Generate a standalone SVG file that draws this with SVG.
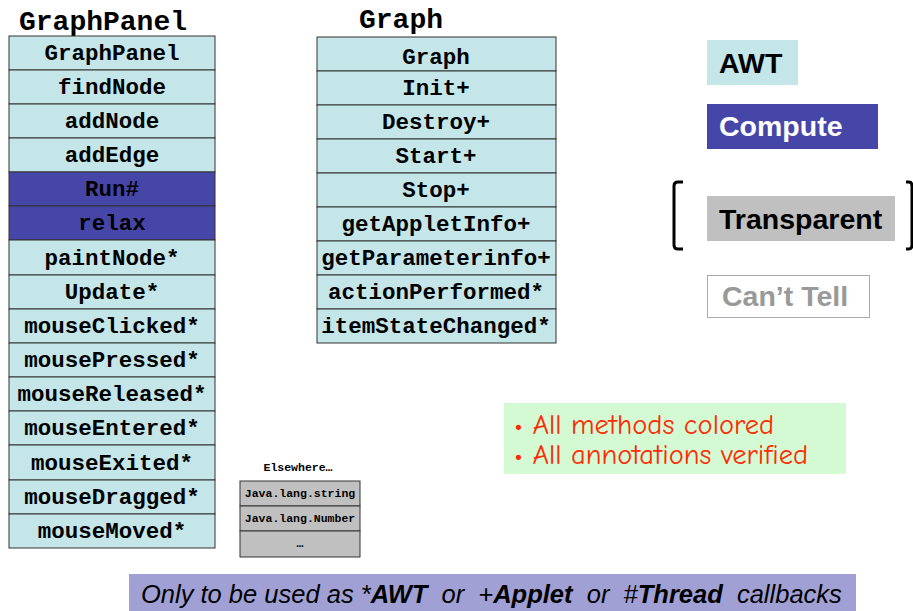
<svg xmlns="http://www.w3.org/2000/svg" width="913" height="611" viewBox="0 0 913 611">
  <style>
    .title { font-family: "Liberation Mono", "Courier New", monospace; font-weight: bold; font-size: 28px; fill: #000; }
    .cell { fill: #c4e6e8; stroke: #333; stroke-width: 1; }
    .cell.cmp { fill: #4646a8; }
    .m { font-family: "Liberation Mono", "Courier New", monospace; font-weight: bold; font-size: 22.5px; fill: #000; text-anchor: middle; }
    .else { fill: #c0c0c0; stroke: #333; stroke-width: 1; }
    .s { font-family: "Liberation Mono", "Courier New", monospace; font-weight: bold; font-size: 11.5px; fill: #000; text-anchor: middle; }
    .leg { font-family: "Liberation Sans", Arial, sans-serif; font-weight: bold; font-size: 28.5px; }
    .note { font-family: "Comic Neue", "Liberation Sans", sans-serif; font-size: 28.5px; fill: #ff2a00; }
    .foot { font-family: "Liberation Sans", Arial, sans-serif; font-style: italic; font-size: 25.5px; fill: #000; }
  </style>

  <!-- GraphPanel class -->
  <g id="graphpanel">
    <text class="title" x="19" y="30">GraphPanel</text>
    <rect class="cell" x="9" y="36" width="206" height="34"/>
    <text class="m" x="112" y="60">GraphPanel</text>
    <rect class="cell" x="9" y="70" width="206" height="34"/>
    <text class="m" x="112" y="94">findNode</text>
    <rect class="cell" x="9" y="104" width="206" height="34"/>
    <text class="m" x="112" y="128">addNode</text>
    <rect class="cell" x="9" y="138" width="206" height="34"/>
    <text class="m" x="112" y="162">addEdge</text>
    <rect class="cell cmp" x="9" y="172" width="206" height="34"/>
    <text class="m" x="112" y="196">Run#</text>
    <rect class="cell cmp" x="9" y="206" width="206" height="34"/>
    <text class="m" x="112" y="230">relax</text>
    <rect class="cell" x="9" y="240" width="206" height="35"/>
    <text class="m" x="112" y="265">paintNode*</text>
    <rect class="cell" x="9" y="275" width="206" height="34"/>
    <text class="m" x="112" y="299">Update*</text>
    <rect class="cell" x="9" y="309" width="206" height="34"/>
    <text class="m" x="112" y="333">mouseClicked*</text>
    <rect class="cell" x="9" y="343" width="206" height="34"/>
    <text class="m" x="112" y="367">mousePressed*</text>
    <rect class="cell" x="9" y="377" width="206" height="34"/>
    <text class="m" x="112" y="401">mouseReleased*</text>
    <rect class="cell" x="9" y="411" width="206" height="34"/>
    <text class="m" x="112" y="435">mouseEntered*</text>
    <rect class="cell" x="9" y="445" width="206" height="35"/>
    <text class="m" x="112" y="470">mouseExited*</text>
    <rect class="cell" x="9" y="480" width="206" height="34"/>
    <text class="m" x="112" y="504">mouseDragged*</text>
    <rect class="cell" x="9" y="514" width="206" height="34"/>
    <text class="m" x="112" y="538">mouseMoved*</text>
  </g>

  <!-- Graph class -->
  <g id="graph">
    <text class="title" x="359" y="28">Graph</text>
    <rect class="cell" x="317" y="37" width="239" height="34"/>
    <text class="m" x="436" y="64">Graph</text>
    <rect class="cell" x="317" y="71" width="239" height="34"/>
    <text class="m" x="436" y="95">Init+</text>
    <rect class="cell" x="317" y="105" width="239" height="34"/>
    <text class="m" x="436" y="129">Destroy+</text>
    <rect class="cell" x="317" y="139" width="239" height="34"/>
    <text class="m" x="436" y="163">Start+</text>
    <rect class="cell" x="317" y="173" width="239" height="34"/>
    <text class="m" x="436" y="197">Stop+</text>
    <rect class="cell" x="317" y="207" width="239" height="34"/>
    <text class="m" x="436" y="231">getAppletInfo+</text>
    <rect class="cell" x="317" y="241" width="239" height="34"/>
    <text class="m" x="436" y="265">getParameterinfo+</text>
    <rect class="cell" x="317" y="275" width="239" height="34"/>
    <text class="m" x="436" y="299">actionPerformed*</text>
    <rect class="cell" x="317" y="309" width="239" height="34"/>
    <text class="m" x="436" y="333">itemStateChanged*</text>
  </g>

  <!-- Library classes -->
  <g id="elsewhere">
    <text class="s" x="298" y="471">Elsewhere…</text>
    <rect class="else" x="240" y="481" width="120" height="25"/>
    <text class="s" x="300" y="497">Java.lang.string</text>
    <rect class="else" x="240" y="506" width="120" height="25"/>
    <text class="s" x="300" y="522">Java.lang.Number</text>
    <rect class="else" x="240" y="531" width="120" height="26"/>
    <text class="s" x="300" y="547">…</text>
  </g>

  <!-- Legend -->
  <g id="legend-awt">
    <rect x="707" y="40" width="91" height="45" fill="#c4e6e8"/>
    <text class="leg" x="719" y="73" fill="#000">AWT</text>
  </g>
  <g id="legend-compute">
    <rect x="707" y="104" width="171" height="45" fill="#4646a8"/>
    <text class="leg" x="719" y="136" fill="#fff">Compute</text>
  </g>
  <g id="legend-transparent">
    <path d="M683 182 h-5 q-4 0 -4 4 v59 q0 4 4 4 h5" fill="none" stroke="#000" stroke-width="3"/>
    <path d="M906 182 h3 q3 0 3 4 v59 q0 4 -3 4 h-3" fill="none" stroke="#000" stroke-width="3"/>
    <rect x="707" y="196" width="188" height="45" fill="#c0c0c0"/>
    <text class="leg" x="719" y="229" fill="#000">Transparent</text>
  </g>
  <g id="legend-canttell">
    <rect x="707.5" y="275.5" width="162" height="42" fill="#fff" stroke="#aaa" stroke-width="1"/>
    <text class="leg" x="722" y="306" fill="#999">Can’t Tell</text>
  </g>

  <!-- Status note -->
  <g id="status">
    <rect x="504" y="403" width="342" height="71" fill="#d4fad4"/>
    <text class="note" x="514" y="434">• All methods colored</text>
    <text class="note" x="514" y="464">• All annotations verified</text>
  </g>

  <!-- Footer -->
  <g id="footer">
    <rect x="129" y="574" width="727" height="37" fill="#a0a0d4"/>
    <text class="foot" x="141" y="603" xml:space="preserve">Only to be used as *<tspan font-weight="bold">AWT</tspan>  or  +<tspan font-weight="bold">Applet</tspan>  or  #<tspan font-weight="bold">Thread</tspan>  callbacks</text>
  </g>

  <g id="connectors"></g>
</svg>
